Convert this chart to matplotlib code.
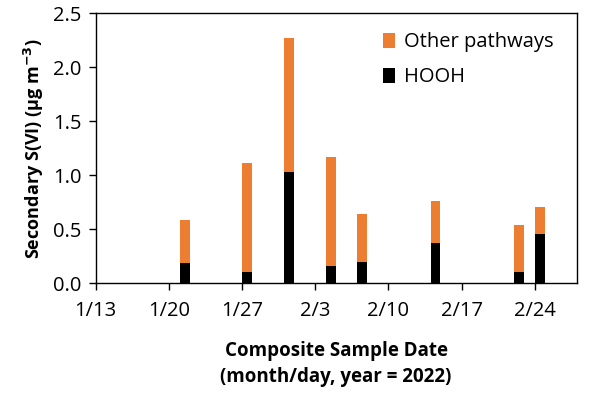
import numpy as np
import pandas as pd
import matplotlib
matplotlib.use("Agg")
import matplotlib.pyplot as plt
import matplotlib.dates as mdates

plt.rcParams['font.family'] = ['Open Sans', 'DejaVu Sans']

# --- data ---
dates = pd.to_datetime(["2022-01-21", "2022-01-27", "2022-01-31", "2022-02-04",
                        "2022-02-07", "2022-02-14", "2022-02-22", "2022-02-24"])
total = [0.586, 1.11, 2.275, 1.173, 0.639, 0.762, 0.543, 0.704]
hooh = [0.19, 0.108, 1.034, 0.164, 0.194, 0.373, 0.108, 0.46]
other = [t - h for t, h in zip(total, hooh)]
tick_dates = pd.to_datetime(["2022-01-13", "2022-01-20", "2022-01-27", "2022-02-03",
                             "2022-02-10", "2022-02-17", "2022-02-24"])
tick_labels = ["1/13", "1/20", "1/27", "2/3", "2/10", "2/17", "2/24"]

fig = plt.figure(figsize=(6, 3.95), dpi=100)
ax = fig.add_axes([0.1595, 0.283, 0.8015, 0.683])

# Excel-style date axis: bars sit between tick marks
x = mdates.date2num(dates) + 0.5
ax.bar(x, hooh, width=0.95, color='black', label='HOOH')
ax.bar(x, other, width=0.95, bottom=hooh, color='#ED7D31', label='Other pathways')

ax.set_xlim(mdates.date2num(pd.Timestamp("2022-01-13")),
            mdates.date2num(pd.Timestamp("2022-02-28")))
ax.set_xticks(mdates.date2num(tick_dates))
ax.set_xticklabels(tick_labels)
ax.set_ylim(0, 2.5)
ax.set_yticks(np.arange(0, 2.51, 0.5))
ax.set_yticklabels([f"{v:.1f}" for v in np.arange(0, 2.51, 0.5)])

for s in ax.spines.values():
    s.set_linewidth(1.0)
    s.set_color('black')
ax.tick_params(axis='both', direction='out', length=5, width=1, labelsize=14.5, pad=5)
ax.tick_params(axis='x', pad=8)

ax.set_ylabel("Secondary S(VI) (µg m$^{\\mathbf{-3}}$)", fontsize=13, fontweight='bold', labelpad=5)
ax.set_xlabel("Composite Sample Date\n(month/day, year = 2022)", fontsize=13.5,
              fontweight='bold', labelpad=14, linespacing=1.42)

h, l = ax.get_legend_handles_labels()
ax.legend(h[::-1], l[::-1], loc='upper left', bbox_to_anchor=(0.597, 0.93),
          frameon=False, fontsize=14.5, handlelength=0.6, handleheight=0.8,
          handletextpad=0.45, labelspacing=0.75, borderpad=0, borderaxespad=0)

plt.savefig("out.png", dpi=100)
